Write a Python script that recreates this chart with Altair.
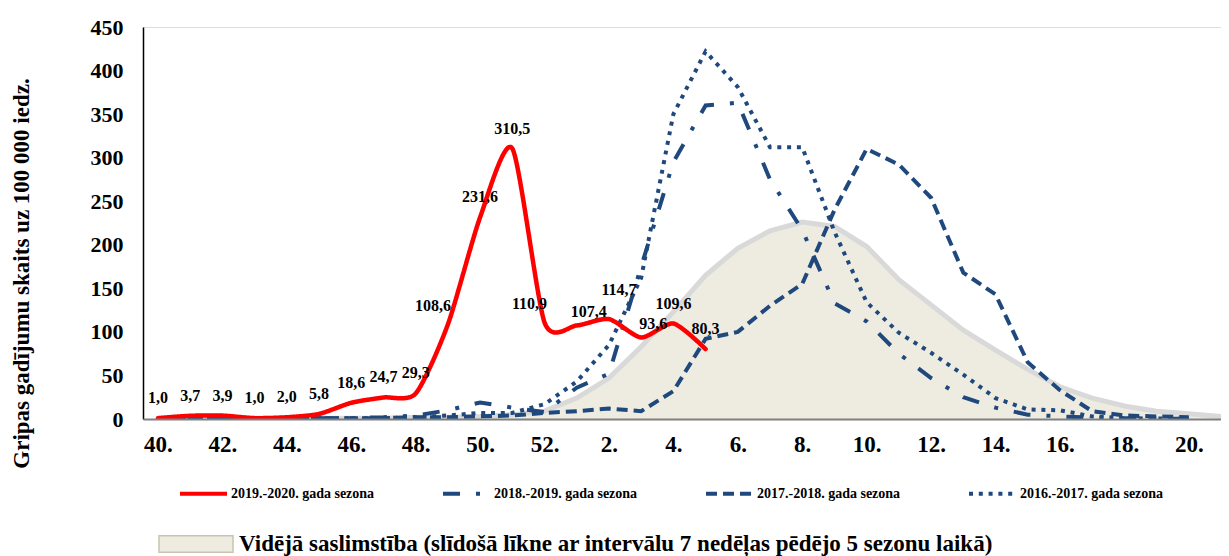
import altair as alt
import pandas as pd

# ---- data -----------------------------------------------------------------
weeks = ["40", "41", "42", "43", "44", "45", "46", "47", "48", "49", "50", "51", "52",
         "1", "2", "3", "4", "5", "6", "7", "8", "9", "10", "11", "12", "13", "14",
         "15", "16", "17", "18", "19", "20", "21"]

seasons = ["2019.-2020. gada sezona", "2018.-2019. gada sezona",
           "2017.-2018. gada sezona", "2016.-2017. gada sezona"]
avg_label = "Vidējā saslimstība (slīdošā līkne ar intervālu 7 nedēļas pēdējo 5 sezonu laikā)"

s1920 = [1.0, 3.7, 3.9, 1.0, 2.0, 5.8, 18.6, 24.7, 29.3, 108.6, 231.6, 310.5, 110.9,
         107.4, 114.7, 93.6, 109.6, 80.3]
s1819 = [1, 1, 2, 1, 1, 1, 1, 2, 4, 10, 19, 13, 8,
         36, 52, 175, 295, 360, 363, 275, 217, 133, 112, 75, 47, 25, 13,
         5, 3, 1.5, 1, 0.5, 0.3]
s1718 = [1, 1, 1, 1, 1, 1, 1, 1, 2, 2, 3, 4, 7,
         9, 12, 9, 32, 92, 100, 130, 155, 240, 310, 292, 254, 168, 143,
         65, 33, 9, 4, 3, 2]
s1617 = [0.5, 1, 1, 1, 1, 1, 1, 1, 2, 4, 7, 7, 17,
         43, 85, 162, 350, 422, 381, 312, 312, 215, 134, 99, 76, 51, 24,
         11, 10, 3, 1, 0.5, 0.3]
avg5 = [1, 1, 1, 1, 1, 1, 1, 1, 2, 2, 3, 5, 9,
        24, 47, 83, 123, 165, 196, 216, 226, 221, 198, 160, 131, 102, 79,
        57, 37, 24, 15, 9, 6, 3]

# ---- tables -----------------------------------------------------------------
rows = []
for name, vals in zip(seasons, [s1920, s1819, s1718, s1617]):
    for i, v in enumerate(vals):
        rows.append({"idx": i, "week": weeks[i], "season": name, "value": v,
                     "lab": f"{v:.1f}".replace(".", ",")})
df = pd.DataFrame(rows)
red = df[df["season"] == seasons[0]]
blue = df[df["season"] != seasons[0]]

avg_df = pd.DataFrame({"idx": list(range(len(avg5))), "value": avg5,
                       "kind": [avg_label] * len(avg5)})

NAVY = "#1F497D"
FONT = "Liberation Serif"

label_expr = "[" + ",".join(f"'{w}.'" for w in weeks) + "][datum.value]"

x_enc = alt.X("idx:Q",
              scale=alt.Scale(domain=[-0.465, 33], nice=False, zero=False),
              axis=alt.Axis(values=list(range(0, 33, 2)), labelExpr=label_expr,
                            title=None, ticks=False, grid=False,
                            labelFont=FONT, labelFontSize=23, labelFontWeight="bold",
                            labelColor="black", labelPadding=14, labelOverlap=False,
                            labelFlush=False,
                            domainColor="#7F7F7F", domainWidth=2, zindex=1))
y_enc = alt.Y("value:Q",
              scale=alt.Scale(domain=[0, 450], nice=False),
              axis=alt.Axis(values=list(range(0, 451, 50)),
                            title="Gripas gadījumu skaits uz 100 000 iedz.",
                            titleFont=FONT, titleFontSize=23, titleFontWeight="bold",
                            titleColor="black", titleAngle=270, titleX=-122, titleY=246,
                            titleAlign="center", titleBaseline="middle",
                            ticks=False, grid=False,
                            labelFont=FONT, labelFontSize=22, labelFontWeight="bold",
                            labelColor="black", labelPadding=20,
                            domainColor="black", domainWidth=1.5))

line_leg = alt.Legend(title=None, orient="none", legendX=35, legendY=441,
                      direction="horizontal", columns=4, columnPadding=60,
                      symbolType="stroke", symbolSize=2209, symbolStrokeWidth=4,
                      labelFont=FONT, labelFontSize=14, labelFontWeight="bold",
                      labelColor="black", labelOffset=2, labelLimit=400, padding=0)

color_scale = alt.Scale(domain=seasons, range=["#FF0000", NAVY, NAVY, NAVY])
dash_scale = alt.Scale(domain=seasons,
                       range=[[1, 0], [17, 16, 4, 16], [11, 6], [4, 5.8]])

area_leg = alt.Legend(title=None, orient="none", legendX=15, legendY=479,
                      symbolType="M-1,-0.22H1V0.22H-1Z", symbolSize=5476,
                      symbolStrokeColor="#C8C3B0", symbolStrokeWidth=1.5,
                      labelFont=FONT, labelFontSize=23, labelFontWeight="bold",
                      labelColor="black", labelOffset=5, labelLimit=1200, padding=0)

area = alt.Chart(avg_df).mark_area(opacity=1, clip=True).encode(
    x=x_enc, y=y_enc,
    fill=alt.Fill("kind:N", scale=alt.Scale(domain=[avg_label], range=["#EEECE1"]),
                  legend=area_leg))

area_top = alt.Chart(avg_df).mark_line(color="#D9D9D9", strokeWidth=5, clip=True).encode(
    x=x_enc, y=y_enc)

blue_lines = alt.Chart(blue).mark_line(strokeWidth=4, clip=True).encode(
    x=x_enc, y=y_enc,
    color=alt.Color("season:N", scale=color_scale, legend=line_leg),
    strokeDash=alt.StrokeDash("season:N", scale=dash_scale, legend=line_leg),
    detail="season:N")

red_line = alt.Chart(red).mark_line(strokeWidth=4.5, strokeCap="round",
                                    interpolate="cardinal", tension=0.3,
                                    clip=True).encode(
    x=x_enc, y=y_enc,
    color=alt.Color("season:N", scale=color_scale, legend=line_leg),
    strokeDash=alt.StrokeDash("season:N", scale=dash_scale, legend=line_leg))

# data labels: most sit centred above the point; a few are nudged as in the original
shift_left = ["49", "52"]
shift_right = ["1", "3"]
shift_up = ["2"]
moved = shift_left + shift_right + shift_up


def label_layer(dx, dy, keep):
    return alt.Chart(red).transform_filter(
        alt.FieldOneOfPredicate(field="week", oneOf=keep)
    ).mark_text(font=FONT, fontSize=16, fontWeight="bold", color="black",
                baseline="middle", dx=dx, dy=dy).encode(
        x=x_enc, y=y_enc, text="lab:N")


labels_main = label_layer(0, -20, [w for w in weeks if w not in moved])
labels_left = label_layer(-15, -18, shift_left)
labels_right = label_layer(12, -13, shift_right)
labels_up = label_layer(10, -29, shift_up)

chart = alt.layer(area, area_top, blue_lines, red_line,
                  labels_main, labels_left, labels_right, labels_up).properties(
    width=1078, height=392,
    autosize=alt.AutoSizeParams(type="none"),
    padding={"left": 135, "top": 19, "right": 0, "bottom": 137},
    background="white",
).configure_view(strokeWidth=0).configure(font=FONT)

chart.save("out.html", embed_options={"renderer": "svg", "actions": False})
